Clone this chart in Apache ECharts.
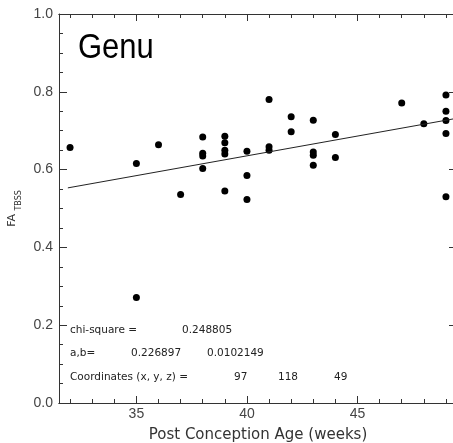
<!DOCTYPE html>
<html>
<head>
<meta charset="utf-8">
<script src="https://cdn.jsdelivr.net/npm/echarts@6/dist/echarts.min.js"></script>
<style>
  html, body { margin: 0; padding: 0; background: #fff; overflow: hidden; }
  #chart { width: 457px; height: 443px; }
</style>
</head>
<body>
<div id="chart"></div>
<script>
// post conception age (weeks) and FA values
var weeks = [32, 35, 35, 36, 37, 38, 38, 38, 38, 39, 39, 39, 39, 39, 40, 40, 40,
  41, 41, 41, 42, 42, 43, 43, 43, 43, 44, 44, 47, 48, 49, 49, 49, 49, 49]
var faValues = [0.657, 0.616, 0.271, 0.664, 0.536, 0.684, 0.642, 0.635, 0.603,
  0.686, 0.669, 0.650, 0.640, 0.545, 0.647, 0.585, 0.523,
  0.780, 0.659, 0.650, 0.736, 0.697, 0.727, 0.645, 0.637, 0.611,
  0.690, 0.631, 0.771, 0.718, 0.792, 0.750, 0.726, 0.693, 0.530]

// fitted line end points
var fitX = [31.9, 49.5]
var fitY = [0.553, 0.732]

var xMajorTicks = [35, 40, 45]
var xMinorTicks = [32, 33, 34, 36, 37, 38, 39, 41, 42, 43, 44, 46, 47, 48, 49]

var statLines = [
  ['chi-square =', '0.248805'],
  ['a,b=', '0.226897', '0.0102149'],
  ['Coordinates (x, y, z) =', '97', '118', '49']
]

var axisColor = '#333'
var labelFont = 'Liberation Sans, Arial, sans-serif'
var statFont = 'DejaVu Sans, Verdana, sans-serif'

// the plot box runs a few px past the right edge of the window, as in the original
var chart = echarts.init(document.getElementById('chart'))

function xAxisDef(pos, ticks, len, showLabel) {
  return {
    type: 'value',
    position: pos,
    min: 31.5,
    max: 49.5,
    axisLine: { show: true, onZero: false, lineStyle: { color: axisColor, width: 1 } },
    axisTick: { show: true, inside: true, length: len, customValues: ticks, lineStyle: { color: axisColor } },
    axisLabel: {
      show: showLabel, customValues: ticks, color: '#444', fontSize: 14,
      fontFamily: labelFont, margin: 4
    },
    splitLine: { show: false }
  }
}

var bottomMajor = xAxisDef('bottom', xMajorTicks, 7, true)
bottomMajor.name = 'Post Conception Age (weeks)'
bottomMajor.nameLocation = 'middle'
bottomMajor.nameGap = 25
bottomMajor.nameTextStyle = { color: '#333', fontSize: 15, fontFamily: statFont }

function yAxisDef(pos, showLabel) {
  return {
    type: 'value',
    position: pos,
    min: 0,
    max: 1,
    interval: 0.2,
    axisLine: { show: true, lineStyle: { color: axisColor, width: 1 } },
    axisTick: { show: true, inside: true, length: 8, lineStyle: { color: axisColor } },
    minorTick: { show: true, splitNumber: 4, length: 4, lineStyle: { color: axisColor } },
    axisLabel: {
      show: showLabel, color: '#444', fontSize: 14, fontFamily: labelFont, margin: 6,
      formatter: function (v) { return v.toFixed(1) }
    },
    splitLine: { show: false }
  }
}

var leftAxis = yAxisDef('left', true)
leftAxis.name = '{a|FA} {b|TBSS}'
leftAxis.nameLocation = 'middle'
leftAxis.nameGap = 35
leftAxis.nameTextStyle = {
  rich: {
    a: { fontSize: 11, color: '#333', fontFamily: statFont, lineHeight: 16, verticalAlign: 'top' },
    b: { fontSize: 8, color: '#333', fontFamily: statFont, lineHeight: 16, verticalAlign: 'bottom', padding: [6, 0, 0, 0] }
  }
}

var rightAxis = yAxisDef('right', false)
rightAxis.axisLine.show = false

var statTexts = []
var statCols = [[70, 182], [70, 131, 207], [70, 234, 278, 334]]
var statRows = [330, 353, 377]
statLines.forEach(function (line, i) {
  line.forEach(function (txt, j) {
    statTexts.push({
      type: 'text',
      x: statCols[i][j],
      y: statRows[i],
      style: {
        text: txt, fill: '#222', font: '10.5px ' + statFont,
        verticalAlign: 'middle'
      }
    })
  })
})

chart.setOption({
  animation: false,
  grid: { left: 59, top: 14, right: 0, bottom: 40, outerBoundsMode: 'none', containLabel: false },
  xAxis: [
    bottomMajor,
    xAxisDef('bottom', xMinorTicks, 4, false),
    xAxisDef('top', xMajorTicks, 7, false),
    xAxisDef('top', xMinorTicks, 4, false)
  ],
  yAxis: [leftAxis, rightAxis],
  graphic: [{
    type: 'text',
    x: 78,
    y: 48,
    scaleY: 1.12,
    style: { text: 'Genu', fill: '#000', font: '31px ' + labelFont, verticalAlign: 'middle' }
  }].concat(statTexts),
  series: [
    {
      type: 'scatter',
      xAxisIndex: 0,
      yAxisIndex: 0,
      symbol: 'circle',
      symbolSize: 7,
      itemStyle: { color: '#000', opacity: 1 },
      data: weeks.map(function (w, i) { return [w, faValues[i]] })
    },
    {
      type: 'line',
      xAxisIndex: 0,
      yAxisIndex: 0,
      symbol: 'none',
      lineStyle: { color: '#222', width: 1 },
      data: fitX.map(function (x, i) { return [x, fitY[i]] })
    }
  ]
})
</script>
</body>
</html>
